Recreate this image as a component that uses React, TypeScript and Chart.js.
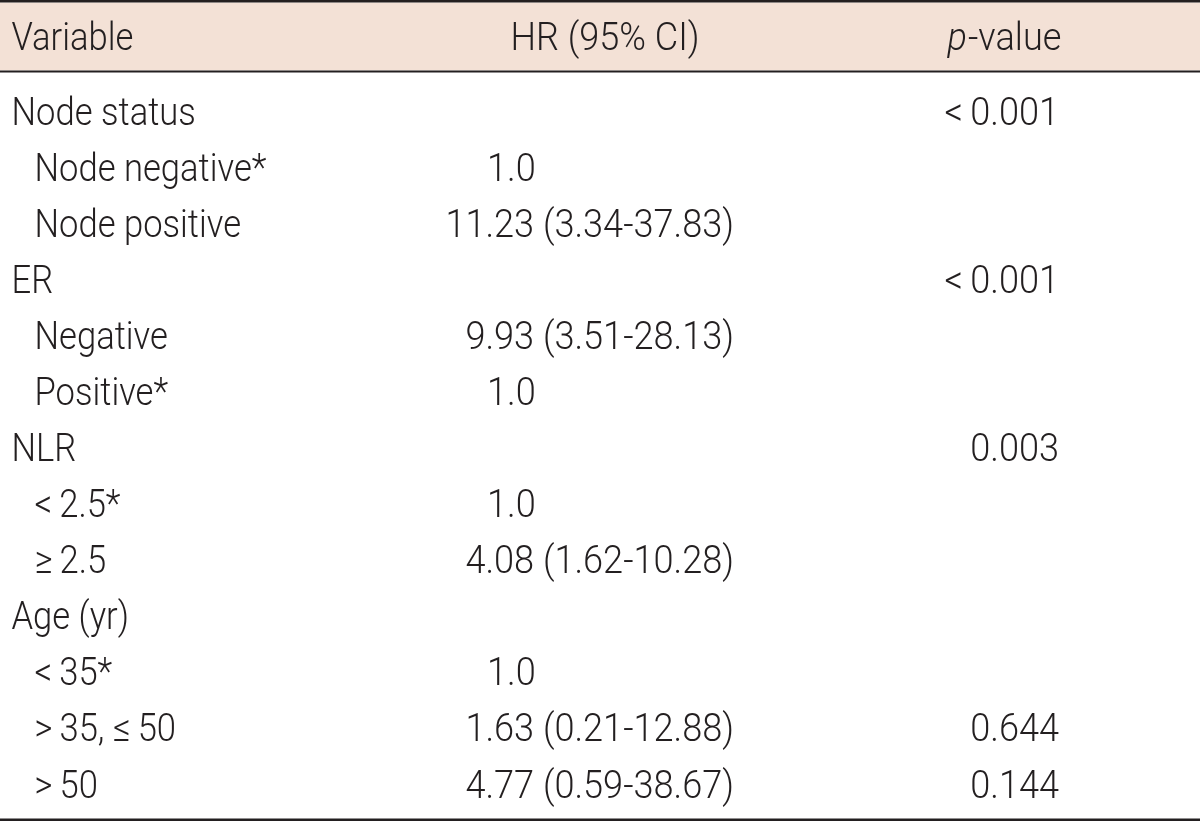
import React, { useEffect, useRef } from "react";
import { Chart, registerables } from "chart.js";

Chart.register(...registerables);

const HEADERS = ["Variable", "HR (95% CI)", "p-value"];
const ROW_LABELS = [
  "Node status",
  "Node negative*",
  "Node positive",
  "ER",
  "Negative",
  "Positive*",
  "NLR",
  "<2.5*",
  "≥2.5",
  "Age (yr)",
  "<35*",
  ">35, ≤50",
  ">50",
];
const HR_VALUES = [
  "",
  "1.0",
  "11.23 (3.34-37.83)",
  "",
  "9.93 (3.51-28.13)",
  "1.0",
  "",
  "1.0",
  "4.08 (1.62-10.28)",
  "",
  "1.0",
  "1.63 (0.21-12.88)",
  "4.77 (0.59-38.67)",
];
const P_VALUES = ["<0.001", "", "", "<0.001", "", "", "0.003", "", "", "", "", "0.644", "0.144"];

const INK = "#231f20";
const HEAD_BG = "#f3e1d6";
const FONT_FAMILY = "Roboto, 'Liberation Sans', Arial, sans-serif";
const FONT_WEIGHT = 300;
const FONT_SIZE = 38;
const SCALE_LABEL = 0.91;
const SCALE_NUM = 0.95;

const W = 1200;
const H = 822;

function display(t: string) {
  return t.replace(/([<>≤≥])/g, "$1\u2009");
}

function fontStr(italic: boolean) {
  return `${italic ? "italic " : ""}${FONT_WEIGHT} ${FONT_SIZE}px ${FONT_FAMILY}`;
}

function drawText(
  ctx: CanvasRenderingContext2D,
  text: string,
  x: number,
  y: number,
  align: CanvasTextAlign,
  sx: number,
  italic = false
) {
  ctx.save();
  ctx.font = fontStr(italic);
  ctx.fillStyle = INK;
  ctx.textAlign = align;
  ctx.textBaseline = "alphabetic";
  ctx.translate(x, y);
  ctx.scale(sx, 1);
  ctx.fillText(text, 0, 0);
  ctx.restore();
}

function measure(ctx: CanvasRenderingContext2D, text: string, sx: number, italic = false) {
  ctx.save();
  ctx.font = fontStr(italic);
  const w = ctx.measureText(text).width * sx;
  ctx.restore();
  return w;
}

const tablePlugin = {
  id: "tablePlugin",
  beforeDraw(chart: any) {
    const ctx: CanvasRenderingContext2D = chart.ctx;
    const { width } = chart;
    ctx.save();
    ctx.fillStyle = "#ffffff";
    ctx.fillRect(0, 0, width, chart.height);
    ctx.fillStyle = HEAD_BG;
    ctx.fillRect(0, 2.5, width, 68);
    ctx.fillStyle = INK;
    ctx.fillRect(0, 0, width, 2.5);
    ctx.fillRect(0, 70.5, width, 2);
    const yScale = chart.scales.y;
    const bottomLine = yScale.getPixelForValue(ROW_LABELS.length - 0.5) + 6.5;
    ctx.fillRect(0, bottomLine, width, 2.5);
    ctx.restore();
  },
  afterDraw(chart: any) {
    const ctx: CanvasRenderingContext2D = chart.ctx;
    const xScale = chart.scales.x;
    const yScale = chart.scales.y;
    const capHalf = FONT_SIZE * 0.356;

    const colVarX = xScale.getPixelForValue(11.5);
    const colSubX = xScale.getPixelForValue(34.5);
    const colHRCenter = xScale.getPixelForValue(605);
    const colHRRight = xScale.getPixelForValue(734);
    const colHRRefLeft = xScale.getPixelForValue(487);
    const colPCenter = xScale.getPixelForValue(1004);
    const colPRight = xScale.getPixelForValue(1059);

    // header
    const headY = 36 + capHalf;
    drawText(ctx, HEADERS[0], colVarX, headY, "left", SCALE_LABEL);
    drawText(ctx, HEADERS[1], colHRCenter, headY, "center", SCALE_NUM);
    const pPart = HEADERS[2].slice(0, 1);
    const rest = HEADERS[2].slice(1);
    const w1 = measure(ctx, pPart, SCALE_NUM, true);
    const w2 = measure(ctx, rest, SCALE_NUM);
    const startX = colPCenter - (w1 + w2) / 2;
    drawText(ctx, pPart, startX, headY, "left", SCALE_NUM, true);
    drawText(ctx, rest, startX + w1 + 1, headY, "left", SCALE_NUM);

    ROW_LABELS.forEach((label, i) => {
      const y = yScale.getPixelForValue(i) + capHalf;
      const isGroup = HR_VALUES[i] === "";
      drawText(ctx, display(label), isGroup ? colVarX : colSubX, y, "left", SCALE_LABEL);
      const hr = HR_VALUES[i];
      if (hr) {
        if (hr === "1.0") drawText(ctx, hr, colHRRefLeft, y, "left", SCALE_NUM);
        else drawText(ctx, hr, colHRRight, y, "right", SCALE_NUM);
      }
      const p = P_VALUES[i];
      if (p) drawText(ctx, display(p), colPRight, y, "right", SCALE_NUM);
    });
  },
};

export default function App() {
  const ref = useRef<HTMLCanvasElement | null>(null);

  useEffect(() => {
    if (!ref.current) return;
    const chart = new Chart(ref.current, {
      type: "scatter",
      data: { datasets: [] },
      options: {
        animation: false,
        responsive: false,
        devicePixelRatio: 1,
        layout: { padding: { top: 83.5, bottom: 10, left: 0, right: 0 } },
        plugins: { legend: { display: false }, tooltip: { enabled: false } },
        scales: {
          x: { type: "linear", min: 0, max: W, display: false },
          y: { type: "linear", min: -0.5, max: ROW_LABELS.length - 0.5, reverse: true, display: false },
        },
      },
      plugins: [tablePlugin],
    });
    return () => chart.destroy();
  }, []);

  return (
    <div style={{ position: "absolute", left: 0, top: 0, width: W, height: H, background: "#fff" }}>
      <canvas ref={ref} width={W} height={H} style={{ display: "block" }} />
    </div>
  );
}
